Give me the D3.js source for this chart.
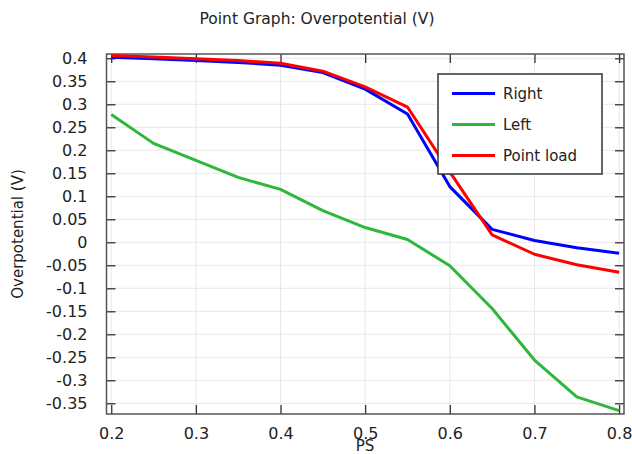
<!DOCTYPE html>
<html>
<head>
<meta charset="utf-8">
<script src="https://cdn.jsdelivr.net/npm/d3@7"></script>
<style>
  body { margin: 0; background: #fff; }
  svg text { font-family: "DejaVu Sans", sans-serif; fill: #222; }
</style>
</head>
<body>
<svg id="chart" width="632" height="454"></svg>
<script>
// data
var ps = [0.2, 0.25, 0.3, 0.35, 0.4, 0.45, 0.5, 0.55, 0.6, 0.65, 0.7, 0.75, 0.8];
var right = [0.402, 0.399, 0.395, 0.391, 0.385, 0.369, 0.333, 0.279, 0.121, 0.028, 0.004, -0.012, -0.024];
var left = [0.278, 0.215, 0.178, 0.141, 0.115, 0.069, 0.032, 0.006, -0.051, -0.144, -0.256, -0.336, -0.366];
var pointLoad = [0.406, 0.403, 0.399, 0.395, 0.389, 0.372, 0.338, 0.294, 0.153, 0.016, -0.026, -0.049, -0.065];
var xTicks = [0.2, 0.3, 0.4, 0.5, 0.6, 0.7, 0.8];
var yTicks = [0.4, 0.35, 0.3, 0.25, 0.2, 0.15, 0.1, 0.05, 0, -0.05, -0.1, -0.15, -0.2, -0.25, -0.3, -0.35];
var seriesNames = ["Right", "Left", "Point load"];
var seriesColors = ["#0000ff", "#2db83d", "#ff0000"];

var series = [right, left, pointLoad];

var svg = d3.select("#chart");
var L = 106.5, R = 624, T = 54, B = 414;

var x = d3.scaleLinear().domain([0.1944, 0.8058]).range([L, R]);
var y = d3.scaleLinear().domain([-0.3733, 0.4093]).range([B, T]);

// grid
var grid = svg.append("g");
grid.selectAll(".gx").data(xTicks).enter().append("line")
    .attr("x1", function(d){ return x(d); }).attr("x2", function(d){ return x(d); })
    .attr("y1", T).attr("y2", B)
    .attr("stroke", "#e8e8e8").attr("stroke-width", 1);
grid.selectAll(".gy").data(yTicks).enter().append("line")
    .attr("y1", function(d){ return y(d); }).attr("y2", function(d){ return y(d); })
    .attr("x1", L).attr("x2", R)
    .attr("stroke", "#e8e8e8").attr("stroke-width", 1);

// axes with inward ticks
var fmt = function(d){ return String(+d.toFixed(2)); };

var xAxis = svg.append("g").attr("transform", "translate(0," + B + ")")
    .call(d3.axisBottom(x).tickValues(xTicks).tickSize(-9).tickPadding(14).tickFormat(fmt));
var yAxis = svg.append("g").attr("transform", "translate(" + L + ",0)")
    .call(d3.axisLeft(y).tickValues(yTicks).tickSize(-9).tickPadding(19).tickFormat(fmt));
var xTop = svg.append("g").attr("transform", "translate(0," + T + ")")
    .call(d3.axisTop(x).tickValues(xTicks).tickSize(-9).tickFormat(""));
var yRight = svg.append("g").attr("transform", "translate(" + R + ",0)")
    .call(d3.axisRight(y).tickValues(yTicks).tickSize(-9).tickFormat(""));

[xAxis, yAxis, xTop, yRight].forEach(function(a){
    a.select(".domain").remove();
    a.selectAll(".tick line").attr("stroke", "#333").attr("stroke-width", 1.3);
    a.selectAll("text").attr("font-size", 16).attr("fill", "#222")
        .attr("font-family", "DejaVu Sans, sans-serif");
});

// box
svg.append("rect").attr("x", L).attr("y", T).attr("width", R - L).attr("height", B - T)
    .attr("fill", "none").attr("stroke", "#555").attr("stroke-width", 1.5);

// lines
var line = d3.line()
    .x(function(d, i){ return x(ps[i]); })
    .y(function(d){ return y(d); });

svg.append("g").selectAll("path").data(series).enter().append("path")
    .attr("d", line)
    .attr("fill", "none")
    .attr("stroke", function(d, i){ return seriesColors[i]; })
    .attr("stroke-width", 3)
    .attr("stroke-linejoin", "round");

// legend
var lg = svg.append("g");
lg.append("rect").attr("x", 438).attr("y", 74).attr("width", 164).attr("height", 100)
    .attr("fill", "#fff").attr("stroke", "#333").attr("stroke-width", 1.5);
var rows = lg.selectAll(".row").data(seriesNames).enter().append("g")
    .attr("transform", function(d, i){ return "translate(0," + (93.5 + i * 31) + ")"; });
rows.append("line").attr("x1", 452).attr("x2", 495).attr("y1", 0).attr("y2", 0)
    .attr("stroke", function(d, i){ return seriesColors[i]; }).attr("stroke-width", 3);
rows.append("text").attr("x", 503).attr("y", 5.5).attr("font-size", 15).text(function(d){ return d; });

// titles
svg.append("text").attr("x", 317).attr("y", 24).attr("text-anchor", "middle")
    .attr("font-size", 15.5).text("Point Graph: Overpotential (V)");
svg.append("text").attr("x", 365).attr("y", 451).attr("text-anchor", "middle")
    .attr("font-size", 15).text("PS");
svg.append("text").attr("transform", "translate(23,234) rotate(-90)").attr("text-anchor", "middle")
    .attr("font-size", 15).text("Overpotential (V)");
</script>
</body>
</html>
